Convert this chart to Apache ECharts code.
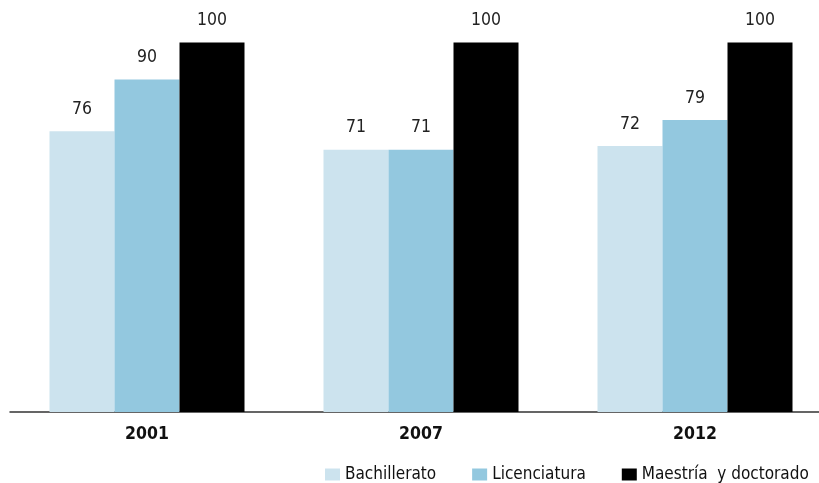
<!DOCTYPE html>
<html>
<head>
<meta charset="utf-8">
<style>
  html, body { margin: 0; padding: 0; background: #fff; overflow: hidden; }
  /* the plot runs a little past the right edge of the page */
  #chart { width: 832px; height: 483px; }
</style>
<script src="https://cdn.jsdelivr.net/npm/echarts@6/dist/echarts.min.js"></script>
</head>
<body>
<div id="chart"></div>
<script>
// Years on the category axis
const years = ['2001', '2007', '2012'];

// Series names
const seriesNames = ['Bachillerato', 'Licenciatura', 'Maestría  y doctorado'];

// Values per level of schooling
const bachillerato = [76, 71, 72];
const licenciatura = [90, 71, 79];
const maestria = [100, 100, 100];

const colors = ['#cce3ee', '#93c8df', '#000000'];
const FONT = '"Liberation Sans Narrow", "Arial Narrow", "DejaVu Sans Condensed", sans-serif';

const chart = echarts.init(document.getElementById('chart'), null, { renderer: 'canvas' });

function barSeries(name, values, color) {
  return {
    name: name,
    type: 'bar',
    data: values,
    barWidth: 65,
    barGap: '0%',
    itemStyle: { color: color },
    label: {
      show: true,
      position: 'top',
      distance: 13,
      color: '#222',
      fontFamily: FONT,
      fontSize: 17.5
    },
    emphasis: { disabled: true }
  };
}

chart.setOption({
  animation: false,
  backgroundColor: '#fff',
  grid: { left: 10, top: 42.5, right: 0, bottom: 71, containLabel: false },
  legend: {
    left: 325,
    top: 466,
    padding: 0,
    itemWidth: 15,
    itemHeight: 12,
    itemGap: 36,
    icon: 'rect',
    textStyle: { fontFamily: FONT, fontSize: 17, lineHeight: 12, color: '#111' },
    data: seriesNames
  },
  xAxis: {
    type: 'category',
    data: years,
    axisLine: { lineStyle: { color: '#333', width: 1.5 } },
    axisTick: { show: false },
    axisLabel: {
      color: '#111',
      fontFamily: FONT,
      fontWeight: 'bold',
      fontSize: 17.5,
      margin: 13
    }
  },
  yAxis: {
    type: 'value',
    min: 0,
    max: 100,
    show: false,
    splitLine: { show: false }
  },
  series: [
    barSeries(seriesNames[0], bachillerato, colors[0]),
    barSeries(seriesNames[1], licenciatura, colors[1]),
    barSeries(seriesNames[2], maestria, colors[2])
  ]
});
</script>
</body>
</html>
